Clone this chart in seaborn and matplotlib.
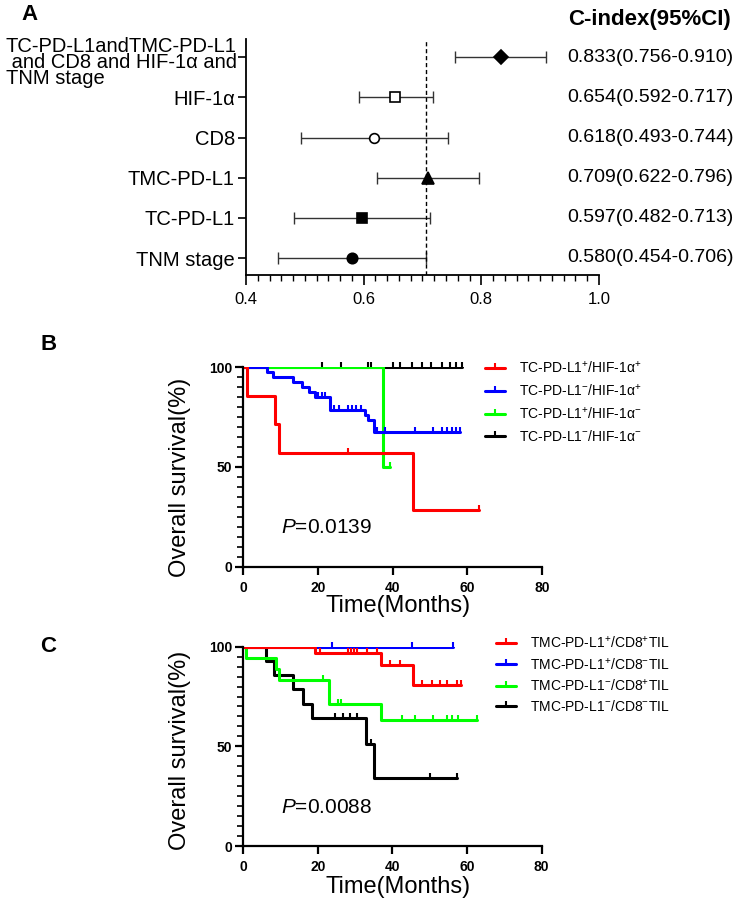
import numpy as np
import matplotlib
matplotlib.use("Agg")
import matplotlib.pyplot as plt
import seaborn as sns
from matplotlib.lines import Line2D
from matplotlib.ticker import MultipleLocator

W, H = 750, 901

# ---- panel A: C-index forest plot (top to bottom) ----
forest_labels = [
    "TC-PD-L1andTMC-PD-L1\n and CD8 and HIF-1α and\nTNM stage",
    "HIF-1α", "CD8", "TMC-PD-L1", "TC-PD-L1", "TNM stage",
]
c_index = [0.833, 0.654, 0.618, 0.709, 0.597, 0.580]
ci_low = [0.756, 0.592, 0.493, 0.622, 0.482, 0.454]
ci_high = [0.910, 0.717, 0.744, 0.796, 0.713, 0.706]
ci_text = ["0.833(0.756-0.910)", "0.654(0.592-0.717)", "0.618(0.493-0.744)",
           "0.709(0.622-0.796)", "0.597(0.482-0.713)", "0.580(0.454-0.706)"]
ref_cindex = 0.706

# ---- panel B: KM curves, TC-PD-L1 / HIF-1a ----
b_labels = ["TC-PD-L1$^{+}$/HIF-1α$^{+}$", "TC-PD-L1$^{-}$/HIF-1α$^{+}$",
            "TC-PD-L1$^{+}$/HIF-1α$^{-}$", "TC-PD-L1$^{-}$/HIF-1α$^{-}$"]
b_red_t = [0, 1.1, 8.6, 9.6, 45.5, 63.0]
b_red_s = [100, 85.7, 71.4, 57.1, 28.6, 28.6]
b_red_cens = [28.1, 63.0]
b_blue_t = [0, 6.3, 8.0, 13.4, 15.6, 17.6, 19.3, 23.2, 32.6, 33.5, 34.9, 58.0]
b_blue_s = [100, 97.4, 95.2, 92.5, 90.0, 87.5, 85.0, 78.5, 76.1, 73.4, 67.7, 67.7]
b_blue_cens = [20.1, 21.0, 21.9, 24.4, 25.7, 28.1, 29.2, 30.3, 31.6, 35.8, 38.0,
               46.0, 50.9, 53.1, 54.5, 55.8, 57.1, 58.0]
b_green_t = [0, 37.3, 39.4]
b_green_s = [100, 50, 50]
b_green_cens = [39.4]
b_black_t = [0, 58.6]
b_black_s = [100, 100]
b_black_cens = [21.1, 26.3, 33.5, 34.1, 40.2, 42.0, 45.1, 47.8, 50.4, 53.1,
                55.4, 57.1, 58.6]

# ---- panel C: KM curves, TMC-PD-L1 / CD8 TIL ----
c_labels = ["TMC-PD-L1$^{+}$/CD8$^{+}$TIL", "TMC-PD-L1$^{+}$/CD8$^{-}$TIL",
            "TMC-PD-L1$^{-}$/CD8$^{+}$TIL", "TMC-PD-L1$^{-}$/CD8$^{-}$TIL"]
c_red_t = [0, 19.1, 36.9, 45.6, 58.5]
c_red_s = [100, 97.0, 90.8, 80.6, 80.6]
c_red_cens = [20.6, 28.2, 29.0, 29.8, 30.6, 33.1, 35.8, 39.3, 42.0, 47.8, 50.5,
              52.7, 54.5, 57.2, 58.5]
c_blue_t = [0, 56.3]
c_blue_s = [100, 100]
c_blue_cens = [23.9, 45.3, 56.3]
c_green_t = [0, 0.8, 8.8, 9.6, 22.9, 36.8, 62.6]
c_green_s = [100, 94.4, 88.9, 83.3, 71.2, 63.3, 63.3]
c_green_cens = [21.4, 25.5, 26.1, 42.5, 46.0, 50.9, 54.5, 55.9, 57.6, 62.6]
c_black_t = [0, 6.1, 8.3, 13.4, 15.9, 18.3, 32.8, 35.0, 57.4]
c_black_s = [100, 92.9, 85.7, 78.6, 71.4, 64.3, 51.4, 34.3, 34.3]
c_black_cens = [24.6, 26.8, 28.6, 30.4, 34.2, 50.2, 57.4]

p_values = ["0.0139", "0.0088"]

COLORS = ["#ff0000", "#0000ff", "#00ff00", "#000000"]

sns.set_style("ticks")
plt.rcParams["font.family"] = ["Liberation Sans", "DejaVu Sans"]
plt.rcParams["mathtext.fontset"] = "custom"
plt.rcParams["mathtext.rm"] = "Liberation Sans"
plt.rcParams["mathtext.it"] = "Liberation Sans:italic"
plt.rcParams["mathtext.bf"] = "Liberation Sans:bold"
for key in ["text.color", "axes.labelcolor", "xtick.color", "ytick.color",
            "axes.edgecolor"]:
    plt.rcParams[key] = "black"


def fx(x):
    return x / W


def fy(y):
    return 1 - y / H


fig = plt.figure(figsize=(W / 100, H / 100), dpi=100)

# ---------------- panel A ----------------
axA = fig.add_axes([fx(246), fy(275), 353 / W, 236 / H])
ypos = np.arange(len(c_index))[::-1]
marker_style = [
    dict(marker="D", ms=7, mfc="black"),
    dict(marker="s", ms=7.5, mfc="white"),
    dict(marker="o", ms=7, mfc="white"),
    dict(marker="^", ms=8, mfc="black"),
    dict(marker="s", ms=7.5, mfc="black"),
    dict(marker="o", ms=7.5, mfc="black"),
]
for y, c, lo, hi, st in zip(ypos, c_index, ci_low, ci_high, marker_style):
    axA.errorbar([c], [y], xerr=[[c - lo], [hi - c]], fmt="none",
                 ecolor="#333333", elinewidth=1.0, capsize=4.5, capthick=1.0)
    axA.plot([c], [y], ls="none", mec="black", mew=1.2, zorder=3, **st)
axA.axvline(ref_cindex, color="black", ls=(0, (3, 2)), lw=1.0)
axA.set_xlim(0.4, 1.0)
axA.set_ylim(-0.42, 5.45)
axA.set_xticks([0.4, 0.6, 0.8, 1.0])
axA.set_xticklabels(["0.4", "0.6", "0.8", "1.0"])
axA.xaxis.set_minor_locator(MultipleLocator(0.02))
axA.set_yticks(ypos)
# the long first label is placed by hand (tight line spacing, set a bit lower)
axA.set_yticklabels([""] + forest_labels[1:], fontsize=14.5)
fig.text(fx(237), fy(62), forest_labels[0], fontsize=14.5, ha="right",
         va="center", multialignment="left", linespacing=0.8)
axA.tick_params(axis="x", which="major", length=7, width=1.2, labelsize=12,
                pad=5, direction="out")
axA.tick_params(axis="x", which="minor", length=4, width=1.0, direction="out")
axA.tick_params(axis="y", length=6, width=1.2, pad=2, direction="out")
for s in ["top", "right"]:
    axA.spines[s].set_visible(False)
for s in ["left", "bottom"]:
    axA.spines[s].set_linewidth(1.3)

fig.text(fx(568), fy(20), "C-index(95%CI)", fontsize=16, fontweight="bold",
         va="center", ha="left")
row_px = [57, 97, 137, 178, 217, 258]
for yp, txt in zip(row_px, ci_text):
    fig.text(fx(567), fy(yp), txt, fontsize=14, va="center", ha="left")
fig.text(fx(21), fy(15), "A", fontsize=16, fontweight="bold", va="center")


# ---------------- KM panels ----------------
def km_panel(ax, curves, labels, pval, leg_xy, spacing):
    # draw in reverse legend order so red ends on top
    for (t, s, cens), color in list(zip(curves, COLORS))[::-1]:
        sns.lineplot(x=t, y=s, drawstyle="steps-post", color=color, lw=2.2,
                     ax=ax, estimator=None, sort=False)
        t_arr = np.asarray(t)
        s_arr = np.asarray(s)
        idx = np.searchsorted(t_arr, cens, side="right") - 1
        ax.plot(cens, s_arr[idx], ls="none", marker=2, ms=3.6, mew=1.5,
                color=color, clip_on=False, zorder=4)
    ax.set_xlim(0, 80)
    ax.set_ylim(0, 100)
    ax.set_xticks([0, 20, 40, 60, 80])
    ax.set_yticks([0, 50, 100])
    ax.yaxis.set_minor_locator(MultipleLocator(5))
    ax.set_xlabel("")
    ax.set_ylabel("")
    for s in ["top", "right"]:
        ax.spines[s].set_visible(False)
    for s in ["left", "bottom"]:
        ax.spines[s].set_linewidth(1.6)
    ax.tick_params(axis="both", which="major", length=6, width=1.6,
                   labelsize=10, direction="out")
    ax.tick_params(axis="y", which="minor", length=4, width=1.2,
                   direction="out")
    ax.tick_params(axis="y", pad=2)
    ax.tick_params(axis="x", pad=4)
    for lab in ax.get_xticklabels() + ax.get_yticklabels():
        lab.set_fontweight("bold")
    ax.text(0.125, 0.195, "$P$=" + pval, transform=ax.transAxes,
            fontsize=15, va="center", ha="left")
    handles = [Line2D([0], [0], color=c, lw=2.2, marker=2, ms=3.6, mew=1.5)
               for c in COLORS]
    ax.legend(handles, labels, loc="upper left", frameon=False,
              bbox_to_anchor=(fx(leg_xy[0]), fy(leg_xy[1])),
              bbox_transform=fig.transFigure, borderpad=0, borderaxespad=0,
              handlelength=1.45, handletextpad=1.0, labelspacing=spacing,
              fontsize=10, numpoints=1)


axB = fig.add_axes([fx(243.3), fy(566.7), 298.7 / W, 199.4 / H])
km_panel(axB,
         [(b_red_t, b_red_s, b_red_cens), (b_blue_t, b_blue_s, b_blue_cens),
          (b_green_t, b_green_s, b_green_cens),
          (b_black_t, b_black_s, b_black_cens)],
         b_labels, p_values[0], (485, 360), 0.5)
fig.text(fx(180), fy(477), "Overall survival(%)", rotation=90, fontsize=17,
         va="center", ha="center")
fig.text(fx(398), fy(606), "Time(Months)", fontsize=17, va="center",
         ha="center")
fig.text(fx(40), fy(345), "B", fontsize=16, fontweight="bold", va="center")

axC = fig.add_axes([fx(243.3), fy(846), 298.3 / W, 199.3 / H])
km_panel(axC,
         [(c_red_t, c_red_s, c_red_cens), (c_blue_t, c_blue_s, c_blue_cens),
          (c_green_t, c_green_s, c_green_cens),
          (c_black_t, c_black_s, c_black_cens)],
         c_labels, p_values[1], (496, 635), 0.38)
fig.text(fx(180), fy(750), "Overall survival(%)", rotation=90, fontsize=17,
         va="center", ha="center")
fig.text(fx(398), fy(887), "Time(Months)", fontsize=17, va="center",
         ha="center")
fig.text(fx(40), fy(647), "C", fontsize=16, fontweight="bold", va="center")

fig.savefig("out.png", dpi=100)
